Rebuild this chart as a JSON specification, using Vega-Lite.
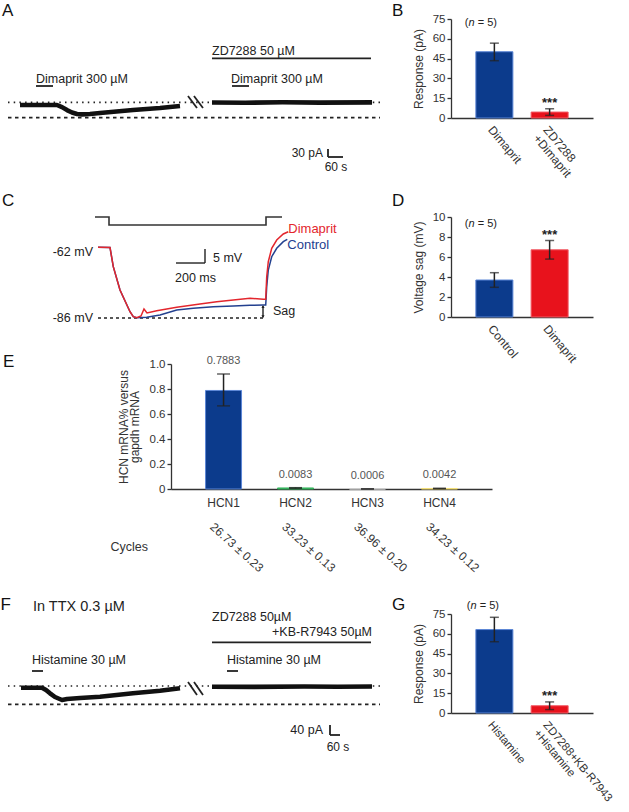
{
  "$schema": "https://vega.github.io/schema/vega-lite/v6.json",
  "background": "white",
  "padding": {"left": 0, "top": 2, "right": 0, "bottom": 0},
  "bounds": "flush",
  "spacing": 0,
  "columns": 2,
  "align": {"row": "each", "column": "each"},
  "resolve": {"scale": {"color": "independent", "stroke": "independent", "shape": "independent", "strokeDash": "independent"}},
  "config": {
    "view": {"stroke": null},
    "font": "Liberation Sans",
    "text": {"color": "#222", "font": "Liberation Sans"},
    "axis": {"labelFont": "Liberation Sans", "titleFont": "Liberation Sans", "labelColor": "#333", "titleColor": "#333", "domainColor": "#333", "tickColor": "#333", "titleFontWeight": "normal", "grid": false, "labelOverlap": false}
  },
  "concat": [
    {
      "width": 451,
      "height": 198,
      "encoding": {
        "x": {"field": "t", "type": "quantitative", "scale": {"domain": [-80, 1724], "nice": false, "zero": false}, "axis": null},
        "y": {"field": "v", "type": "quantitative", "scale": {"domain": [-420, 322.5], "nice": false, "zero": false}, "axis": null}
      },
      "layer": [
        {
          "data": {"values": [{"line": "baseline", "t": -48, "t2": 1440, "v": 10.1}, {"line": "peak", "t": -48, "t2": 1440, "v": -47.6}]},
          "mark": {"type": "rule", "color": "#222", "strokeWidth": 1.7},
          "encoding": {"x2": {"field": "t2"}, "strokeDash": {"field": "line", "type": "nominal", "scale": {"domain": ["baseline", "peak"], "range": [[1.5, 4.2], [3.5, 3.5]]}, "legend": null}}
        },
        {
          "data": {"values": [
            {"seg": "before", "t": 0, "v": 0}, {"seg": "before", "t": 148, "v": 0}, {"seg": "before", "t": 168, "v": -8}, {"seg": "before", "t": 188, "v": -19}, {"seg": "before", "t": 208, "v": -28}, {"seg": "before", "t": 228, "v": -33.5}, {"seg": "before", "t": 248, "v": -35}, {"seg": "before", "t": 280, "v": -33.5}, {"seg": "before", "t": 320, "v": -30}, {"seg": "before", "t": 452, "v": -18.75}, {"seg": "before", "t": 560, "v": -11.25}, {"seg": "before", "t": 640, "v": -3.75},
            {"seg": "zd", "t": 768, "v": 9.4}, {"seg": "zd", "t": 900, "v": 8.6}, {"seg": "zd", "t": 1050, "v": 10.1}, {"seg": "zd", "t": 1200, "v": 9}, {"seg": "zd", "t": 1408, "v": 9.8}
          ]},
          "mark": {"type": "line", "color": "#111", "strokeWidth": 4.6, "strokeJoin": "round"},
          "encoding": {"detail": {"field": "seg"}}
        },
        {
          "data": {"values": [
            {"t": 64, "t2": 132, "v": 71.25, "v2": 71.25},
            {"t": 848, "t2": 916, "v": 71.25, "v2": 71.25},
            {"t": 768, "t2": 1404, "v": 175, "v2": 175},
            {"t": 672, "t2": 708, "v": 33.75, "v2": -11.25},
            {"t": 696, "t2": 732, "v": 33.75, "v2": -11.25},
            {"t": 1232, "t2": 1232, "v": -165, "v2": -195},
            {"t": 1232, "t2": 1292, "v": -195, "v2": -195}
          ]},
          "mark": {"type": "rule", "color": "#222", "strokeWidth": 1.8},
          "encoding": {"x2": {"field": "t2"}, "y2": {"field": "v2"}}
        },
        {
          "data": {"values": [{"t": 64, "v": 81.4, "label": "Dimaprit 300 µM"}, {"t": 844, "v": 81.4, "label": "Dimaprit 300 µM"}, {"t": 768, "v": 187.5, "label": "ZD7288 50 µM"}]},
          "mark": {"type": "text", "align": "left", "baseline": "alphabetic", "fontSize": 12.5},
          "encoding": {"text": {"field": "label"}}
        },
        {
          "data": {"values": [{"t": 1212, "v": -195, "label": "30 pA"}]},
          "mark": {"type": "text", "align": "right", "baseline": "alphabetic", "fontSize": 12},
          "encoding": {"text": {"field": "label"}}
        },
        {
          "data": {"values": [{"t": 1264, "v": -247.5, "label": "60 s"}]},
          "mark": {"type": "text", "align": "center", "baseline": "alphabetic", "fontSize": 12},
          "encoding": {"text": {"field": "label"}}
        },
        {
          "data": {"values": [{"t": -72, "v": 333.75, "label": "A"}, {"t": 1488, "v": 333.75, "label": "B"}]},
          "mark": {"type": "text", "align": "left", "baseline": "alphabetic", "fontSize": 17, "color": "#111"},
          "encoding": {"text": {"field": "label"}}
        }
      ]
    },
    {
      "width": 142,
      "height": 99,
      "data": {"values": [
        {"group": "Dimaprit", "mean": 50.2, "lo": 43.4, "hi": 56.7, "sig": ""},
        {"group": "ZD7288 +Dimaprit", "mean": 4.5, "lo": 2, "hi": 7, "sig": "***"}
      ]},
      "encoding": {
        "x": {"field": "group", "type": "nominal", "sort": null, "scale": {"paddingInner": 0.33, "paddingOuter": 0.45},
          "axis": {"title": null, "labelAngle": 50, "labelAlign": "left", "labelBaseline": "top", "ticks": false, "tickSize": 0, "labelPadding": 6, "labelFontSize": 12, "labelLineHeight": 13, "domainWidth": 1.6, "labelExpr": "split(datum.label, ' ')"}}
      },
      "layer": [
        {
          "mark": {"type": "bar", "strokeWidth": 1},
          "encoding": {
            "y": {"field": "mean", "type": "quantitative", "title": "Response (pA)", "scale": {"domain": [0, 75], "nice": false},
              "axis": {"values": [0, 15, 30, 45, 60, 75], "tickSize": 4, "tickWidth": 1.3, "domainWidth": 1.3, "labelPadding": 2, "labelFontSize": 11.5, "titleFontSize": 12, "titlePadding": 7}},
            "color": {"field": "group", "type": "nominal", "scale": {"range": ["#0c3b8c", "#e8121c"]}, "legend": null},
            "stroke": {"field": "group", "type": "nominal", "scale": {"range": ["#5b86d6", "#f25a64"]}, "legend": null}
          }
        },
        {
          "mark": {"type": "errorbar", "ticks": {"size": 9}, "thickness": 1.5, "color": "#222"},
          "encoding": {"y": {"field": "lo", "type": "quantitative", "title": "Response (pA)", "axis": {"values": [0, 15, 30, 45, 60, 75], "tickSize": 4, "tickWidth": 1.3, "domainWidth": 1.3, "labelPadding": 2, "labelFontSize": 11.5, "titleFontSize": 12, "titlePadding": 7}}, "y2": {"field": "hi"}}
        },
        {
          "mark": {"type": "text", "baseline": "alphabetic", "dy": -2, "fontSize": 13, "fontWeight": "bold", "color": "#222"},
          "encoding": {"y": {"field": "hi", "type": "quantitative", "title": "Response (pA)", "axis": {"values": [0, 15, 30, 45, 60, 75], "tickSize": 4, "tickWidth": 1.3, "domainWidth": 1.3, "labelPadding": 2, "labelFontSize": 11.5, "titleFontSize": 12, "titlePadding": 7}}, "text": {"field": "sig"}}
        },
        {
          "data": {"values": [{"part": "("}]},
          "mark": {"type": "text", "align": "left", "baseline": "middle", "fontSize": 11, "dx": -29.5},
          "encoding": {"x": {"datum": "Dimaprit"}, "y": {"datum": 71.6, "title": "Response (pA)", "axis": {"values": [0, 15, 30, 45, 60, 75], "tickSize": 4, "tickWidth": 1.3, "domainWidth": 1.3, "labelPadding": 2, "labelFontSize": 11.5, "titleFontSize": 12, "titlePadding": 7}}, "text": {"field": "part"}}
        },
        {
          "data": {"values": [{"part": "n"}]},
          "mark": {"type": "text", "align": "left", "baseline": "middle", "fontSize": 11, "fontStyle": "italic", "dx": -25.8},
          "encoding": {"x": {"datum": "Dimaprit"}, "y": {"datum": 71.6, "title": "Response (pA)", "axis": {"values": [0, 15, 30, 45, 60, 75], "tickSize": 4, "tickWidth": 1.3, "domainWidth": 1.3, "labelPadding": 2, "labelFontSize": 11.5, "titleFontSize": 12, "titlePadding": 7}}, "text": {"field": "part"}}
        },
        {
          "data": {"values": [{"part": "= 5)"}]},
          "mark": {"type": "text", "align": "left", "baseline": "middle", "fontSize": 11, "dx": -16.6},
          "encoding": {"x": {"datum": "Dimaprit"}, "y": {"datum": 71.6, "title": "Response (pA)", "axis": {"values": [0, 15, 30, 45, 60, 75], "tickSize": 4, "tickWidth": 1.3, "domainWidth": 1.3, "labelPadding": 2, "labelFontSize": 11.5, "titleFontSize": 12, "titlePadding": 7}}, "text": {"field": "part"}}
        }
      ]
    },
    {
      "width": 451,
      "height": 147,
      "encoding": {
        "x": {"field": "t", "type": "quantitative", "scale": {"domain": [-686, 2471], "nice": false, "zero": false}, "axis": null},
        "y": {"field": "v", "type": "quantitative", "scale": {"domain": [-102.4286, -49.9286], "nice": false, "zero": false}, "axis": null}
      },
      "layer": [
        {
          "data": {"values": [{"t": 0, "t2": 1155, "v": -86}]},
          "mark": {"type": "rule", "color": "#222", "strokeWidth": 1.7, "strokeDash": [3, 3]},
          "encoding": {"x2": {"field": "t2"}}
        },
        {
          "data": {"values": [{"t": -21, "v": -49.93}, {"t": 77, "v": -52.79}, {"t": 1176, "v": -49.93}, {"t": 1288, "v": -49.93}]},
          "mark": {"type": "line", "color": "#333", "strokeWidth": 1.6, "interpolate": "step-after"},
          "encoding": {}
        },
        {
          "data": {"values": [
            {"condition": "Control", "t": 0, "v": -60.75}, {"condition": "Control", "t": 84, "v": -60.82}, {"condition": "Control", "t": 107, "v": -67.68}, {"condition": "Control", "t": 154, "v": -76}, {"condition": "Control", "t": 224, "v": -83.75}, {"condition": "Control", "t": 247, "v": -85.54}, {"condition": "Control", "t": 271, "v": -85.89},
            {"condition": "Control", "t": 341, "v": -85.75}, {"condition": "Control", "t": 434, "v": -84.93}, {"condition": "Control", "t": 551, "v": -83.14}, {"condition": "Control", "t": 667, "v": -82.54}, {"condition": "Control", "t": 807, "v": -81.96}, {"condition": "Control", "t": 947, "v": -81.71}, {"condition": "Control", "t": 1064, "v": -81.46}, {"condition": "Control", "t": 1157, "v": -81.36}, {"condition": "Control", "t": 1174, "v": -81.36}, {"condition": "Control", "t": 1181, "v": -74.82}, {"condition": "Control", "t": 1192, "v": -68.86}, {"condition": "Control", "t": 1216, "v": -64.11}, {"condition": "Control", "t": 1251, "v": -61.11}, {"condition": "Control", "t": 1297, "v": -58.75}, {"condition": "Control", "t": 1325, "v": -57.89},
            {"condition": "Dimaprit", "t": 0, "v": -60.75}, {"condition": "Dimaprit", "t": 84, "v": -60.82}, {"condition": "Dimaprit", "t": 107, "v": -67.68}, {"condition": "Dimaprit", "t": 154, "v": -76}, {"condition": "Dimaprit", "t": 224, "v": -83.75}, {"condition": "Dimaprit", "t": 247, "v": -85.54}, {"condition": "Dimaprit", "t": 271, "v": -85.89},
            {"condition": "Dimaprit", "t": 301, "v": -85.29}, {"condition": "Dimaprit", "t": 322, "v": -82.79}, {"condition": "Dimaprit", "t": 343, "v": -84.21}, {"condition": "Dimaprit", "t": 411, "v": -83.39}, {"condition": "Dimaprit", "t": 551, "v": -82.18}, {"condition": "Dimaprit", "t": 714, "v": -81}, {"condition": "Dimaprit", "t": 831, "v": -80.18}, {"condition": "Dimaprit", "t": 947, "v": -79.57}, {"condition": "Dimaprit", "t": 1064, "v": -78.96}, {"condition": "Dimaprit", "t": 1157, "v": -79.32}, {"condition": "Dimaprit", "t": 1174, "v": -79.32}, {"condition": "Dimaprit", "t": 1181, "v": -71.25}, {"condition": "Dimaprit", "t": 1192, "v": -65.89}, {"condition": "Dimaprit", "t": 1216, "v": -61.11}, {"condition": "Dimaprit", "t": 1251, "v": -58.14}, {"condition": "Dimaprit", "t": 1297, "v": -56}, {"condition": "Dimaprit", "t": 1332, "v": -55.18}
          ]},
          "mark": {"type": "line", "strokeWidth": 1.5},
          "encoding": {"color": {"field": "condition", "type": "nominal", "scale": {"domain": ["Control", "Dimaprit"], "range": ["#23408f", "#e3262d"]}, "legend": null}}
        },
        {
          "data": {"values": [{"t": 1155, "v": -81.7, "v2": -85.7}, {"t": 546, "v": -66.36, "t2": 749, "v2": -66.36}, {"t": 749, "v": -61.36, "t2": 749, "v2": -66.36}]},
          "mark": {"type": "rule", "color": "#222", "strokeWidth": 1.4},
          "encoding": {"x2": {"field": "t2"}, "y2": {"field": "v2"}}
        },
        {
          "data": {"values": [{"end": "top", "t": 1155, "v": -81.9}, {"end": "bottom", "t": 1155, "v": -85.5}]},
          "mark": {"type": "point", "filled": true, "color": "#222", "size": 10, "opacity": 1},
          "encoding": {"shape": {"field": "end", "type": "nominal", "scale": {"domain": ["top", "bottom"], "range": ["triangle-up", "triangle-down"]}, "legend": null}}
        },
        {
          "data": {"values": [{"t": -35, "v": -62.43, "label": "-62 mV"}, {"t": -35, "v": -86, "label": "-86 mV"}]},
          "mark": {"type": "text", "align": "right", "baseline": "middle", "fontSize": 12.5},
          "encoding": {"text": {"field": "label"}}
        },
        {
          "data": {"values": [{"t": 805, "v": -64.57, "label": "5 mV"}, {"t": 539, "v": -71.71, "label": "200 ms"}, {"t": 1225, "v": -83.5, "label": "Sag"}]},
          "mark": {"type": "text", "align": "left", "baseline": "middle", "fontSize": 12.5},
          "encoding": {"text": {"field": "label"}}
        },
        {
          "data": {"values": [{"condition": "Dimaprit", "t": 1332, "v": -54.3}, {"condition": "Control", "t": 1325, "v": -59.9}]},
          "mark": {"type": "text", "align": "left", "baseline": "middle", "fontSize": 13},
          "encoding": {"text": {"field": "condition"}, "color": {"field": "condition", "type": "nominal", "legend": null}}
        },
        {
          "data": {"values": [{"t": -672, "v": -46, "label": "C"}, {"t": 2058, "v": -46, "label": "D"}, {"t": -665, "v": -103.5, "label": "E"}]},
          "mark": {"type": "text", "align": "left", "baseline": "alphabetic", "fontSize": 17, "color": "#111"},
          "encoding": {"text": {"field": "label"}}
        }
      ]
    },
    {
      "width": 142,
      "height": 100,
      "data": {"values": [
        {"group": "Control", "mean": 3.7, "lo": 2.97, "hi": 4.43, "sig": ""},
        {"group": "Dimaprit", "mean": 6.72, "lo": 5.79, "hi": 7.65, "sig": "***"}
      ]},
      "encoding": {
        "x": {"field": "group", "type": "nominal", "sort": null, "scale": {"paddingInner": 0.33, "paddingOuter": 0.45},
          "axis": {"title": null, "labelAngle": 50, "labelAlign": "left", "labelBaseline": "top", "ticks": false, "tickSize": 0, "labelPadding": 6, "labelFontSize": 12, "labelLineHeight": 13, "domainWidth": 1.6}}
      },
      "layer": [
        {
          "mark": {"type": "bar", "strokeWidth": 1},
          "encoding": {
            "y": {"field": "mean", "type": "quantitative", "title": "Voltage sag (mV)", "scale": {"domain": [0, 10], "nice": false},
              "axis": {"values": [0, 2, 4, 6, 8, 10], "tickSize": 4, "tickWidth": 1.3, "domainWidth": 1.3, "labelPadding": 2, "labelFontSize": 11.5, "titleFontSize": 12, "titlePadding": 7}},
            "color": {"field": "group", "type": "nominal", "scale": {"range": ["#0c3b8c", "#e8121c"]}, "legend": null},
            "stroke": {"field": "group", "type": "nominal", "scale": {"range": ["#5b86d6", "#f25a64"]}, "legend": null}
          }
        },
        {
          "mark": {"type": "errorbar", "ticks": {"size": 9}, "thickness": 1.5, "color": "#222"},
          "encoding": {"y": {"field": "lo", "type": "quantitative", "title": "Voltage sag (mV)", "axis": {"values": [0, 2, 4, 6, 8, 10], "tickSize": 4, "tickWidth": 1.3, "domainWidth": 1.3, "labelPadding": 2, "labelFontSize": 11.5, "titleFontSize": 12, "titlePadding": 7}}, "y2": {"field": "hi"}}
        },
        {
          "mark": {"type": "text", "baseline": "alphabetic", "dy": -2, "fontSize": 13, "fontWeight": "bold", "color": "#222"},
          "encoding": {"y": {"field": "hi", "type": "quantitative", "title": "Voltage sag (mV)", "axis": {"values": [0, 2, 4, 6, 8, 10], "tickSize": 4, "tickWidth": 1.3, "domainWidth": 1.3, "labelPadding": 2, "labelFontSize": 11.5, "titleFontSize": 12, "titlePadding": 7}}, "text": {"field": "sig"}}
        },
        {
          "data": {"values": [{"part": "("}]},
          "mark": {"type": "text", "align": "left", "baseline": "middle", "fontSize": 11, "dx": -29.5},
          "encoding": {"x": {"datum": "Control"}, "y": {"datum": 9.3, "title": "Voltage sag (mV)", "axis": {"values": [0, 2, 4, 6, 8, 10], "tickSize": 4, "tickWidth": 1.3, "domainWidth": 1.3, "labelPadding": 2, "labelFontSize": 11.5, "titleFontSize": 12, "titlePadding": 7}}, "text": {"field": "part"}}
        },
        {
          "data": {"values": [{"part": "n"}]},
          "mark": {"type": "text", "align": "left", "baseline": "middle", "fontSize": 11, "fontStyle": "italic", "dx": -25.8},
          "encoding": {"x": {"datum": "Control"}, "y": {"datum": 9.3, "title": "Voltage sag (mV)", "axis": {"values": [0, 2, 4, 6, 8, 10], "tickSize": 4, "tickWidth": 1.3, "domainWidth": 1.3, "labelPadding": 2, "labelFontSize": 11.5, "titleFontSize": 12, "titlePadding": 7}}, "text": {"field": "part"}}
        },
        {
          "data": {"values": [{"part": "= 5)"}]},
          "mark": {"type": "text", "align": "left", "baseline": "middle", "fontSize": 11, "dx": -16.6},
          "encoding": {"x": {"datum": "Control"}, "y": {"datum": 9.3, "title": "Voltage sag (mV)", "axis": {"values": [0, 2, 4, 6, 8, 10], "tickSize": 4, "tickWidth": 1.3, "domainWidth": 1.3, "labelPadding": 2, "labelFontSize": 11.5, "titleFontSize": 12, "titlePadding": 7}}, "text": {"field": "part"}}
        }
      ]
    },
    {
      "width": 451,
      "height": 125,
      "data": {"values": [
        {"gene": "HCN1", "mean": 0.7883, "lo": 0.665, "hi": 0.92, "label": "0.7883", "cycles": "26.73 ± 0.23"},
        {"gene": "HCN2", "mean": 0.0083, "lo": 0.006, "hi": 0.0105, "label": "0.0083", "cycles": "33.23 ± 0.13"},
        {"gene": "HCN3", "mean": 0.0006, "lo": 0.0005, "hi": 0.0007, "label": "0.0006", "cycles": "36.96 ± 0.20"},
        {"gene": "HCN4", "mean": 0.0042, "lo": 0.0032, "hi": 0.0052, "label": "0.0042", "cycles": "34.23 ± 0.12"}
      ]},
      "encoding": {
        "x": {"field": "gene", "type": "nominal", "sort": null, "scale": {"range": [171, 492], "paddingInner": 0.5, "paddingOuter": 0.48},
          "axis": {"title": null, "labelAngle": 0, "ticks": false, "tickSize": 0, "labelPadding": 8, "labelFontSize": 12, "domainWidth": 1.6}}
      },
      "layer": [
        {
          "mark": {"type": "bar", "strokeWidth": 1},
          "encoding": {
            "y": {"field": "mean", "type": "quantitative", "title": ["HCN mRNA% versus", "gapdh mRNA"], "scale": {"domain": [0, 1], "nice": false},
              "axis": {"offset": -171, "values": [0, 0.2, 0.4, 0.6, 0.8, 1], "labelExpr": "datum.value == 0 ? '0' : format(datum.value, '.1f')", "titleLineHeight": 11, "titleFontSize": 12, "titlePadding": 8, "tickSize": 4, "tickWidth": 1.3, "domainWidth": 1.3, "labelPadding": 2, "labelFontSize": 11.5}},
            "color": {"field": "gene", "type": "nominal", "scale": {"range": ["#0c3b8c", "#35b35c", "#cccccc", "#f2df78"]}, "legend": null},
            "stroke": {"field": "gene", "type": "nominal", "scale": {"range": ["#5b86d6", "#35b35c", "#cccccc", "#f2df78"]}, "legend": null}
          }
        },
        {
          "mark": {"type": "errorbar", "ticks": {"size": 13}, "thickness": 1.5, "color": "#222"},
          "encoding": {"y": {"field": "lo", "type": "quantitative", "title": ["HCN mRNA% versus", "gapdh mRNA"], "axis": {"offset": -171, "values": [0, 0.2, 0.4, 0.6, 0.8, 1], "labelExpr": "datum.value == 0 ? '0' : format(datum.value, '.1f')", "titleLineHeight": 11, "titleFontSize": 12, "titlePadding": 8, "tickSize": 4, "tickWidth": 1.3, "domainWidth": 1.3, "labelPadding": 2, "labelFontSize": 11.5}}, "y2": {"field": "hi"}}
        },
        {
          "mark": {"type": "text", "baseline": "middle", "dy": -13, "fontSize": 11, "color": "#555"},
          "encoding": {"y": {"field": "hi", "type": "quantitative", "title": ["HCN mRNA% versus", "gapdh mRNA"], "axis": {"offset": -171, "values": [0, 0.2, 0.4, 0.6, 0.8, 1], "labelExpr": "datum.value == 0 ? '0' : format(datum.value, '.1f')", "titleLineHeight": 11, "titleFontSize": 12, "titlePadding": 8, "tickSize": 4, "tickWidth": 1.3, "domainWidth": 1.3, "labelPadding": 2, "labelFontSize": 11.5}}, "text": {"field": "label"}}
        },
        {
          "mark": {"type": "text", "align": "left", "baseline": "top", "angle": 42, "dx": -11, "fontSize": 12, "color": "#333"},
          "encoding": {"y": {"datum": -0.318, "title": ["HCN mRNA% versus", "gapdh mRNA"], "axis": {"offset": -171, "values": [0, 0.2, 0.4, 0.6, 0.8, 1], "labelExpr": "datum.value == 0 ? '0' : format(datum.value, '.1f')", "titleLineHeight": 11, "titleFontSize": 12, "titlePadding": 8, "tickSize": 4, "tickWidth": 1.3, "domainWidth": 1.3, "labelPadding": 2, "labelFontSize": 11.5}}, "text": {"field": "cycles"}}
        },
        {
          "data": {"values": [{"label": "Cycles"}]},
          "mark": {"type": "text", "align": "left", "baseline": "middle", "dx": -113, "fontSize": 12.5, "color": "#333"},
          "encoding": {"x": {"datum": "HCN1"}, "y": {"datum": -0.464, "title": ["HCN mRNA% versus", "gapdh mRNA"], "axis": {"offset": -171, "values": [0, 0.2, 0.4, 0.6, 0.8, 1], "labelExpr": "datum.value == 0 ? '0' : format(datum.value, '.1f')", "titleLineHeight": 11, "titleFontSize": 12, "titlePadding": 8, "tickSize": 4, "tickWidth": 1.3, "domainWidth": 1.3, "labelPadding": 2, "labelFontSize": 11.5}}, "text": {"field": "label"}}
        }
      ]
    },
    {"width": 142, "height": 250, "data": {"values": []}, "mark": "point"},
    {
      "width": 451,
      "height": 140,
      "encoding": {
        "x": {"field": "t", "type": "quantitative", "scale": {"domain": [-126, 2580], "nice": false, "zero": false}, "axis": null},
        "y": {"field": "v", "type": "quantitative", "scale": {"domain": [-264, 296], "nice": false, "zero": false}, "axis": null}
      },
      "layer": [
        {
          "data": {"values": [{"line": "baseline", "t": -78, "t2": 2154, "v": 8}, {"line": "peak", "t": -78, "t2": 2154, "v": -65.2}]},
          "mark": {"type": "rule", "color": "#222", "strokeWidth": 1.7},
          "encoding": {"x2": {"field": "t2"}, "strokeDash": {"field": "line", "type": "nominal", "scale": {"domain": ["baseline", "peak"], "range": [[1.5, 4.2], [3.5, 3.5]]}, "legend": null}}
        },
        {
          "data": {"values": [
            {"seg": "before", "t": 0, "v": 1.2}, {"seg": "before", "t": 126, "v": 1.2}, {"seg": "before", "t": 150, "v": -8}, {"seg": "before", "t": 174, "v": -21.2}, {"seg": "before", "t": 204, "v": -36}, {"seg": "before", "t": 246, "v": -48}, {"seg": "before", "t": 276, "v": -44}, {"seg": "before", "t": 354, "v": -40}, {"seg": "before", "t": 474, "v": -34.8}, {"seg": "before", "t": 672, "v": -21.2}, {"seg": "before", "t": 834, "v": -10.8}, {"seg": "before", "t": 954, "v": -1.2},
            {"seg": "zd", "t": 1146, "v": 5.2}, {"seg": "zd", "t": 1400, "v": 4.4}, {"seg": "zd", "t": 1700, "v": 6}, {"seg": "zd", "t": 1900, "v": 5}, {"seg": "zd", "t": 2106, "v": 6}
          ]},
          "mark": {"type": "line", "color": "#111", "strokeWidth": 4.6, "strokeJoin": "round"},
          "encoding": {"detail": {"field": "seg"}}
        },
        {
          "data": {"values": [
            {"t": 66, "t2": 132, "v": 68, "v2": 68},
            {"t": 1236, "t2": 1302, "v": 68, "v2": 68},
            {"t": 1146, "t2": 2100, "v": 182.8, "v2": 182.8},
            {"t": 1002, "t2": 1056, "v": 24, "v2": -28},
            {"t": 1038, "t2": 1092, "v": 24, "v2": -28},
            {"t": 1854, "t2": 1854, "v": -148, "v2": -188},
            {"t": 1854, "t2": 1914, "v": -188, "v2": -188}
          ]},
          "mark": {"type": "rule", "color": "#222", "strokeWidth": 1.8},
          "encoding": {"x2": {"field": "t2"}, "y2": {"field": "v2"}}
        },
        {
          "data": {"values": [{"t": 1146, "v": 268, "label": "ZD7288 50µM"}, {"t": 66, "v": 96, "label": "Histamine 30 µM"}, {"t": 1236, "v": 96, "label": "Histamine 30 µM"}]},
          "mark": {"type": "text", "align": "left", "baseline": "alphabetic", "fontSize": 12.5},
          "encoding": {"text": {"field": "label"}}
        },
        {
          "data": {"values": [{"t": 2106, "v": 208, "label": "+KB-R7943 50µM"}, {"t": 1812, "v": -184, "label": "40 pA"}]},
          "mark": {"type": "text", "align": "right", "baseline": "alphabetic", "fontSize": 12.5},
          "encoding": {"text": {"field": "label"}}
        },
        {
          "data": {"values": [{"t": 1902, "v": -252, "label": "60 s"}]},
          "mark": {"type": "text", "align": "center", "baseline": "alphabetic", "fontSize": 12},
          "encoding": {"text": {"field": "label"}}
        },
        {
          "data": {"values": [{"t": 72, "v": 308, "label": "In TTX 0.3 µM"}]},
          "mark": {"type": "text", "align": "left", "baseline": "alphabetic", "fontSize": 14.5},
          "encoding": {"text": {"field": "label"}}
        },
        {
          "data": {"values": [{"t": -123, "v": 312, "label": "F"}, {"t": 2226, "v": 312, "label": "G"}]},
          "mark": {"type": "text", "align": "left", "baseline": "alphabetic", "fontSize": 17, "color": "#111"},
          "encoding": {"text": {"field": "label"}}
        }
      ]
    },
    {
      "width": 142,
      "height": 99,
      "data": {"values": [
        {"group": "Histamine", "mean": 63.2, "lo": 54, "hi": 72.5, "sig": ""},
        {"group": "ZD7288+KB-R7943 +Histamine", "mean": 5.5, "lo": 2.6, "hi": 8.4, "sig": "***"}
      ]},
      "encoding": {
        "x": {"field": "group", "type": "nominal", "sort": null, "scale": {"paddingInner": 0.33, "paddingOuter": 0.45},
          "axis": {"title": null, "labelAngle": 50, "labelAlign": "left", "labelBaseline": "top", "ticks": false, "tickSize": 0, "labelPadding": 6, "labelFontSize": 11.5, "labelLineHeight": 12.5, "domainWidth": 1.6, "labelExpr": "split(datum.label, ' ')"}}
      },
      "layer": [
        {
          "mark": {"type": "bar", "strokeWidth": 1},
          "encoding": {
            "y": {"field": "mean", "type": "quantitative", "title": "Response (pA)", "scale": {"domain": [0, 75], "nice": false},
              "axis": {"values": [0, 15, 30, 45, 60, 75], "tickSize": 4, "tickWidth": 1.3, "domainWidth": 1.3, "labelPadding": 2, "labelFontSize": 11.5, "titleFontSize": 12, "titlePadding": 7}},
            "color": {"field": "group", "type": "nominal", "scale": {"range": ["#0c3b8c", "#e8121c"]}, "legend": null},
            "stroke": {"field": "group", "type": "nominal", "scale": {"range": ["#5b86d6", "#f25a64"]}, "legend": null}
          }
        },
        {
          "mark": {"type": "errorbar", "ticks": {"size": 9}, "thickness": 1.5, "color": "#222"},
          "encoding": {"y": {"field": "lo", "type": "quantitative", "title": "Response (pA)", "axis": {"values": [0, 15, 30, 45, 60, 75], "tickSize": 4, "tickWidth": 1.3, "domainWidth": 1.3, "labelPadding": 2, "labelFontSize": 11.5, "titleFontSize": 12, "titlePadding": 7}}, "y2": {"field": "hi"}}
        },
        {
          "mark": {"type": "text", "baseline": "alphabetic", "dy": -2, "fontSize": 13, "fontWeight": "bold", "color": "#222"},
          "encoding": {"y": {"field": "hi", "type": "quantitative", "title": "Response (pA)", "axis": {"values": [0, 15, 30, 45, 60, 75], "tickSize": 4, "tickWidth": 1.3, "domainWidth": 1.3, "labelPadding": 2, "labelFontSize": 11.5, "titleFontSize": 12, "titlePadding": 7}}, "text": {"field": "sig"}}
        },
        {
          "data": {"values": [{"part": "("}]},
          "mark": {"type": "text", "align": "left", "baseline": "middle", "fontSize": 11, "dx": -27.5},
          "encoding": {"x": {"datum": "Histamine"}, "y": {"datum": 81.1, "title": "Response (pA)", "axis": {"values": [0, 15, 30, 45, 60, 75], "tickSize": 4, "tickWidth": 1.3, "domainWidth": 1.3, "labelPadding": 2, "labelFontSize": 11.5, "titleFontSize": 12, "titlePadding": 7}}, "text": {"field": "part"}}
        },
        {
          "data": {"values": [{"part": "n"}]},
          "mark": {"type": "text", "align": "left", "baseline": "middle", "fontSize": 11, "fontStyle": "italic", "dx": -23.8},
          "encoding": {"x": {"datum": "Histamine"}, "y": {"datum": 81.1, "title": "Response (pA)", "axis": {"values": [0, 15, 30, 45, 60, 75], "tickSize": 4, "tickWidth": 1.3, "domainWidth": 1.3, "labelPadding": 2, "labelFontSize": 11.5, "titleFontSize": 12, "titlePadding": 7}}, "text": {"field": "part"}}
        },
        {
          "data": {"values": [{"part": "= 5)"}]},
          "mark": {"type": "text", "align": "left", "baseline": "middle", "fontSize": 11, "dx": -14.6},
          "encoding": {"x": {"datum": "Histamine"}, "y": {"datum": 81.1, "title": "Response (pA)", "axis": {"values": [0, 15, 30, 45, 60, 75], "tickSize": 4, "tickWidth": 1.3, "domainWidth": 1.3, "labelPadding": 2, "labelFontSize": 11.5, "titleFontSize": 12, "titlePadding": 7}}, "text": {"field": "part"}}
        }
      ]
    }
  ]
}
